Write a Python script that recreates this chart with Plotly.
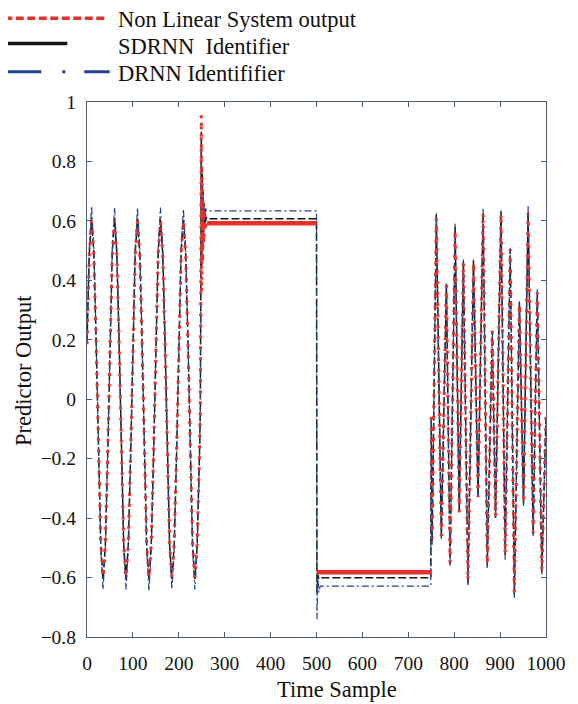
import plotly.graph_objects as go

# ---------------- data ----------------
# Segment 1: sinusoidal part, samples 0..245 (every 5 samples)
sine_k = list(range(0, 250, 5))
sys_sine = [0.185, 0.485, 0.600, 0.485, 0.185, -0.185, -0.485, -0.600, -0.485, -0.185,
            0.185, 0.485, 0.600, 0.485, 0.185, -0.185, -0.485, -0.600, -0.485, -0.185,
            0.185, 0.485, 0.600, 0.485, 0.185, -0.185, -0.485, -0.600, -0.485, -0.185,
            0.185, 0.485, 0.600, 0.485, 0.185, -0.185, -0.485, -0.600, -0.485, -0.185,
            0.185, 0.485, 0.600, 0.485, 0.185, -0.185, -0.485, -0.600, -0.485, -0.185]
sdrnn_sine = [0.190, 0.490, 0.605, 0.490, 0.190, -0.190, -0.490, -0.605, -0.490, -0.190,
              0.190, 0.490, 0.605, 0.490, 0.190, -0.190, -0.490, -0.605, -0.490, -0.190,
              0.190, 0.490, 0.605, 0.490, 0.190, -0.190, -0.490, -0.605, -0.490, -0.190,
              0.190, 0.490, 0.605, 0.490, 0.190, -0.190, -0.490, -0.605, -0.490, -0.190,
              0.190, 0.490, 0.605, 0.490, 0.190, -0.190, -0.490, -0.605, -0.490, -0.190]
drnn_sine = [0.200, 0.505, 0.650, 0.505, 0.195, -0.200, -0.505, -0.640, -0.505, -0.195,
             0.200, 0.505, 0.645, 0.505, 0.195, -0.200, -0.505, -0.640, -0.505, -0.195,
             0.200, 0.505, 0.645, 0.505, 0.195, -0.200, -0.505, -0.645, -0.505, -0.195,
             0.200, 0.505, 0.645, 0.505, 0.195, -0.200, -0.505, -0.640, -0.505, -0.195,
             0.200, 0.505, 0.640, 0.505, 0.195, -0.200, -0.505, -0.640, -0.505, -0.195]

# Transient after the step at sample ~248
trans_k = [247, 248, 249, 250, 251, 252, 253, 254, 255, 256, 257, 258, 260, 263, 266]
sys_trans = [-0.03, 0.37, 0.956, 0.36, 0.75, 0.46, 0.67, 0.52, 0.64, 0.55, 0.62, 0.565, 0.60, 0.585, 0.592]
sdrnn_trans = [-0.03, 0.40, 0.90, 0.45, 0.78, 0.50, 0.70, 0.55, 0.66, 0.58, 0.635, 0.595, 0.612, 0.605, 0.607]
drnn_trans = [-0.03, 0.42, 0.85, 0.52, 0.72, 0.58, 0.68, 0.60, 0.655, 0.62, 0.645, 0.63, 0.638, 0.634, 0.634]

# Constant levels (system output)
sys_hold_k = [262, 500, None, 500, 750]
sys_hold = [0.592, 0.592, None, -0.582, -0.582]

# Identifier outputs during the constant inputs and the drop at 500
hold_k = [270, 500, 501, 503, 505, 508, 749]
sdrnn_hold = [0.607, 0.607, -0.65, -0.59, -0.605, -0.601, -0.601]
drnn_hold = [0.634, 0.634, -0.74, -0.60, -0.65, -0.629, -0.629]

# Segment 4: multi-frequency part, samples 750..1000 (peaks and troughs)
osc_k = [750, 752, 761, 772, 783, 791, 802, 811, 820, 830, 842, 852, 863, 872,
         883, 890, 902, 911, 922, 931, 942, 951, 961, 972, 981, 991, 1000]
sys_osc = [-0.06, -0.47, 0.61, -0.46, 0.385, -0.55, 0.57, -0.38, 0.46, -0.61, 0.46, -0.33, 0.625, -0.555,
           0.23, -0.395, 0.625, -0.52, 0.505, -0.65, 0.32, -0.35, 0.628, -0.45, 0.36, -0.575, -0.06]
sdrnn_osc = [-0.06, -0.48, 0.62, -0.465, 0.385, -0.555, 0.58, -0.38, 0.465, -0.62, 0.465, -0.33, 0.63, -0.56,
             0.23, -0.40, 0.63, -0.525, 0.505, -0.655, 0.325, -0.35, 0.63, -0.455, 0.36, -0.58, -0.06]
drnn_osc = [-0.06, -0.49, 0.63, -0.47, 0.39, -0.56, 0.59, -0.38, 0.47, -0.63, 0.47, -0.33, 0.645, -0.57,
            0.23, -0.40, 0.64, -0.54, 0.51, -0.67, 0.33, -0.36, 0.65, -0.46, 0.37, -0.59, -0.06]

x_ticks = [0, 100, 200, 300, 400, 500, 600, 700, 800, 900, 1000]
y_ticks = [-0.8, -0.6, -0.4, -0.2, 0, 0.2, 0.4, 0.6, 0.8, 1]

legend_names = ["Non Linear System output", "SDRNN\u00a0 Identifier", "DRNN Identififier"]

# ---------------- styling ----------------
RED = "#e3312b"
BLACK = "#161616"
BLUE = "#23408f"
FRAME = "#4d5b6e"
FONT = "Liberation Serif, Times New Roman, serif"

OFF = 8                      # page body margin
W, H = 578 - OFF, 704 - OFF
# plot area in screen pixels
SL, SR, ST, SB = 87, 553, 102, 637
PL, PR, PT, PB = SL - OFF, SR - OFF, ST - OFF, SB - OFF


def px(x):
    """screen x pixel -> paper fraction"""
    return (x - SL) / (SR - SL)


def py(y):
    """screen y pixel -> paper fraction"""
    return (SB - y) / (SB - ST)


fig = go.Figure()

# SDRNN identifier (black)
fig.add_trace(go.Scatter(
    x=sine_k + trans_k + hold_k + osc_k,
    y=sdrnn_sine + sdrnn_trans + sdrnn_hold + sdrnn_osc,
    mode="lines", name=legend_names[1], showlegend=False,
    line=dict(color=BLACK, width=1.5, dash="8px,3px"),
))

# DRNN identifier (blue dash-dot)
fig.add_trace(go.Scatter(
    x=sine_k + trans_k + hold_k + osc_k,
    y=drnn_sine + drnn_trans + drnn_hold + drnn_osc,
    mode="lines", name=legend_names[2], showlegend=False,
    line=dict(color=BLUE, width=1.2, dash="7px,3px,2px,3px"),
))

# System output: constant levels (thick red band)
fig.add_trace(go.Scatter(
    x=sys_hold_k, y=sys_hold, mode="lines", showlegend=False,
    line=dict(color=RED, width=4.5), connectgaps=False,
))

# System output: oscillating parts (red dotted)
fig.add_trace(go.Scatter(
    x=sine_k + trans_k + [None] + osc_k,
    y=sys_sine + sys_trans + [None] + sys_osc,
    mode="lines", name=legend_names[0], showlegend=False, connectgaps=False,
    line=dict(color=RED, width=3, dash="3px,8px"),
))

# ---------------- manual legend (above the plot) ----------------
shapes = [
    dict(type="line", xref="paper", yref="paper", x0=px(3), x1=px(108), y0=py(18.3), y1=py(18.3),
         line=dict(color=RED, width=3.5, dash="8px,3.5px")),
    dict(type="line", xref="paper", yref="paper", x0=px(0), x1=px(67), y0=py(43.5), y1=py(43.5),
         line=dict(color=BLACK, width=3.5)),
    dict(type="line", xref="paper", yref="paper", x0=px(3), x1=px(110), y0=py(71.7), y1=py(71.7),
         line=dict(color=BLUE, width=3, dash="37px,21px,3px,19px,27px,60px")),
]

annotations = []
for name, yy in zip(legend_names, [19.5, 46, 73]):
    annotations.append(dict(text=name, xref="paper", yref="paper", x=px(116), y=py(yy),
                            xanchor="left", yanchor="middle", showarrow=False,
                            font=dict(family=FONT, size=22.5, color="#111111")))

annotations.append(dict(text="Time Sample", xref="paper", yref="paper", x=px(341), y=py(689),
                        xanchor="center", yanchor="middle", showarrow=False,
                        font=dict(family=FONT, size=22.5, color="#111111")))
annotations.append(dict(text="Predictor Output", xref="paper", yref="paper", x=px(22), y=py(370),
                        xanchor="center", yanchor="middle", showarrow=False, textangle=-90,
                        font=dict(family=FONT, size=22.5, color="#111111")))

axis_common = dict(
    showline=True, linecolor=FRAME, linewidth=1.2, mirror="ticks",
    ticks="inside", ticklen=5, tickwidth=1, tickcolor=FRAME,
    showgrid=False, zeroline=False,
    tickfont=dict(family=FONT, size=19.5, color="#111111"),
)

fig.update_layout(
    width=W, height=H,
    margin=dict(l=PL, r=W - PR, t=PT, b=H - PB),
    paper_bgcolor="white", plot_bgcolor="white",
    showlegend=False,
    xaxis=dict(range=[0, 1000], tickvals=x_ticks, ticktext=[str(v) for v in x_ticks],
               ticklabelstandoff=8, **axis_common),
    yaxis=dict(range=[-0.8, 1], tickvals=y_ticks,
               ticktext=[("\u2212" + f"{-v:g}") if v < 0 else f"{v:g}" for v in y_ticks],
               ticklabelstandoff=6, **axis_common),
    shapes=shapes,
    annotations=annotations,
)

fig.write_html("out.html")
